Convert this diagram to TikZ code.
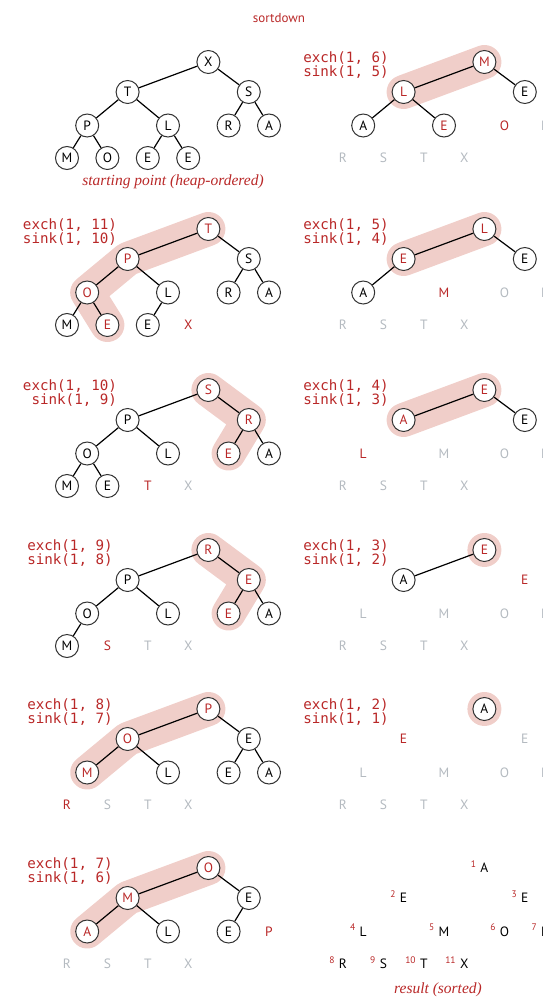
\documentclass[tikz,border=0pt]{standalone}
\usepackage{fontspec}
\setsansfont{PT Sans}
\setmonofont{DejaVu Sans Mono}
\newfontfamily\capfont{Liberation Serif}
\usetikzlibrary{backgrounds}
\definecolor{sortred}{RGB}{185,40,40}
\definecolor{donegray}{RGB}{180,186,192}
\definecolor{glowpink}{RGB}{240,206,201}
% inorder slot and depth of heap positions 1..11
\def\heapslots{1/7/0,2/3/30,3/9/30,4/1/63.5,5/5/63.5,6/8/63.5,7/10/63.5,8/0/96,9/2/96,10/4/96,11/6/96}

\begin{document}
\begin{tikzpicture}[x=1pt,y=-1pt,
  heapkey/.style={circle, draw=black!80, line width=1pt, fill=white, minimum size=23pt, inner sep=0pt, font=\sffamily\fontsize{13.5}{14}\selectfont},
  keyred/.style={heapkey, text=sortred},
  outred/.style={inner sep=1pt, font=\sffamily\fontsize{13.5}{14}\selectfont, text=sortred},
  outgray/.style={outred, text=donegray},
  outblk/.style={outred, text=black},
  idx/.style={inner sep=0pt, font=\sffamily\fontsize{9.5}{10}\selectfont, text=sortred, yshift=4pt, xshift=-3pt},
  branch/.style={line width=1.2pt},
  glow/.style={draw=glowpink, line width=34pt, line cap=round, line join=round},
  cmd/.style={font=\ttfamily\fontsize{14.2}{14}\selectfont, text=sortred, align=center},
  caption/.style={font=\capfont\itshape\fontsize{15.5}{17}\selectfont, text=sortred}]
\useasboundingbox (0,0) rectangle (542,1001);
\node[font=\sffamily\fontsize{13}{14}\selectfont, text=sortred] (title) at (279,18) {sortdown};

% starting point
\begin{scope}[shift={(67,62)}]
  \foreach \p/\i/\d in \heapslots \coordinate (s\p) at (20.2*\i,\d);
  \foreach \p/\c in {1/X,2/T,3/S,4/P,5/L,6/R,7/A,8/M,9/O,10/E,11/E} \node[heapkey] (a\p) at (s\p) {\c};
  \foreach \p [evaluate=\p as \q using int(\p/2)] in {2,...,11} \draw[branch] (a\p) -- (a\q);
  \node[caption] (capa) at (106,120) {starting point (heap-ordered)};
\end{scope}

% exch(1, 6)
\begin{scope}[shift={(343,62)}]
  \foreach \p/\i/\d in \heapslots \coordinate (s\p) at (20.2*\i,\d);
  \foreach \p/\c/\s in {1/M/keyred,2/L/keyred,3/E/heapkey,4/A/heapkey,5/E/keyred,6/O/outred,7/P/outgray,8/R/outgray,9/S/outgray,10/T/outgray,11/X/outgray}
    \node[\s] (b\p) at (s\p) {\c};
  \foreach \p [evaluate=\p as \q using int(\p/2)] in {2,...,5} \draw[branch] (b\p) -- (b\q);
  \begin{scope}[on background layer] \draw[glow] (b1.center) -- (b2.center); \end{scope}
  \node[cmd] (cmdb) at (3,3) {exch(1, 6)\\sink(1, 5)};
\end{scope}

% exch(1, 11)
\begin{scope}[shift={(67,229)}]
  \foreach \p/\i/\d in \heapslots \coordinate (s\p) at (20.2*\i,\d);
  \foreach \p/\c/\s in {1/T/keyred,2/P/keyred,3/S/heapkey,4/O/keyred,5/L/heapkey,6/R/heapkey,7/A/heapkey,8/M/heapkey,9/E/keyred,10/E/heapkey,11/X/outred}
    \node[\s] (c\p) at (s\p) {\c};
  \foreach \p [evaluate=\p as \q using int(\p/2)] in {2,...,10} \draw[branch] (c\p) -- (c\q);
  \begin{scope}[on background layer] \draw[glow] (c1.center) -- (c2.center) -- (c4.center) -- (c9.center); \end{scope}
  \node[cmd] (cmdc) at (3,3) {exch(1, 11)\\sink(1, 10)};
\end{scope}

% exch(1, 5)
\begin{scope}[shift={(343,229)}]
  \foreach \p/\i/\d in \heapslots \coordinate (s\p) at (20.2*\i,\d);
  \foreach \p/\c/\s in {1/L/keyred,2/E/keyred,3/E/heapkey,4/A/heapkey,5/M/outred,6/O/outgray,7/P/outgray,8/R/outgray,9/S/outgray,10/T/outgray,11/X/outgray}
    \node[\s] (d\p) at (s\p) {\c};
  \foreach \p [evaluate=\p as \q using int(\p/2)] in {2,...,4} \draw[branch] (d\p) -- (d\q);
  \begin{scope}[on background layer] \draw[glow] (d1.center) -- (d2.center); \end{scope}
  \node[cmd] (cmdd) at (3,3) {exch(1, 5)\\sink(1, 4)};
\end{scope}

% exch(1, 10)
\begin{scope}[shift={(67,390)}]
  \foreach \p/\i/\d in \heapslots \coordinate (s\p) at (20.2*\i,\d);
  \foreach \p/\c/\s in {1/S/keyred,2/P/heapkey,3/R/keyred,4/O/heapkey,5/L/heapkey,6/E/keyred,7/A/heapkey,8/M/heapkey,9/E/heapkey,10/T/outred,11/X/outgray}
    \node[\s] (e\p) at (s\p) {\c};
  \foreach \p [evaluate=\p as \q using int(\p/2)] in {2,...,9} \draw[branch] (e\p) -- (e\q);
  \begin{scope}[on background layer] \draw[glow] (e1.center) -- (e3.center) -- (e6.center); \end{scope}
  \node[cmd] (cmde) at (3,3) {exch(1, 10)\\~sink(1, 9)};
\end{scope}

% exch(1, 4)
\begin{scope}[shift={(343,390)}]
  \foreach \p/\i/\d in \heapslots \coordinate (s\p) at (20.2*\i,\d);
  \foreach \p/\c/\s in {1/E/keyred,2/A/keyred,3/E/heapkey,4/L/outred,5/M/outgray,6/O/outgray,7/P/outgray,8/R/outgray,9/S/outgray,10/T/outgray,11/X/outgray}
    \node[\s] (f\p) at (s\p) {\c};
  \foreach \p [evaluate=\p as \q using int(\p/2)] in {2,3} \draw[branch] (f\p) -- (f\q);
  \begin{scope}[on background layer] \draw[glow] (f1.center) -- (f2.center); \end{scope}
  \node[cmd] (cmdf) at (3,3) {exch(1, 4)\\sink(1, 3)};
\end{scope}

% exch(1, 9)
\begin{scope}[shift={(67,550)}]
  \foreach \p/\i/\d in \heapslots \coordinate (s\p) at (20.2*\i,\d);
  \foreach \p/\c/\s in {1/R/keyred,2/P/heapkey,3/E/keyred,4/O/heapkey,5/L/heapkey,6/E/keyred,7/A/heapkey,8/M/heapkey,9/S/outred,10/T/outgray,11/X/outgray}
    \node[\s] (g\p) at (s\p) {\c};
  \foreach \p [evaluate=\p as \q using int(\p/2)] in {2,...,8} \draw[branch] (g\p) -- (g\q);
  \begin{scope}[on background layer] \draw[glow] (g1.center) -- (g3.center) -- (g6.center); \end{scope}
  \node[cmd] (cmdg) at (3,3) {exch(1, 9)\\sink(1, 8)};
\end{scope}

% exch(1, 3)
\begin{scope}[shift={(343,550)}]
  \foreach \p/\i/\d in \heapslots \coordinate (s\p) at (20.2*\i,\d);
  \foreach \p/\c/\s in {1/E/keyred,2/A/heapkey,3/E/outred,4/L/outgray,5/M/outgray,6/O/outgray,7/P/outgray,8/R/outgray,9/S/outgray,10/T/outgray,11/X/outgray}
    \node[\s] (h\p) at (s\p) {\c};
  \draw[branch] (h2) -- (h1);
  \begin{scope}[on background layer] \draw[glow] (h1.center) -- ++(0.01,0); \end{scope}
  \node[cmd] (cmdh) at (3,3) {exch(1, 3)\\sink(1, 2)};
\end{scope}

% exch(1, 8)
\begin{scope}[shift={(67,709)}]
  \foreach \p/\i/\d in \heapslots \coordinate (s\p) at (20.2*\i,\d);
  \foreach \p/\c/\s in {1/P/keyred,2/O/keyred,3/E/heapkey,4/M/keyred,5/L/heapkey,6/E/heapkey,7/A/heapkey,8/R/outred,9/S/outgray,10/T/outgray,11/X/outgray}
    \node[\s] (i\p) at (s\p) {\c};
  \foreach \p [evaluate=\p as \q using int(\p/2)] in {2,...,7} \draw[branch] (i\p) -- (i\q);
  \begin{scope}[on background layer] \draw[glow] (i1.center) -- (i2.center) -- (i4.center); \end{scope}
  \node[cmd] (cmdi) at (3,3) {exch(1, 8)\\sink(1, 7)};
\end{scope}

% exch(1, 2)
\begin{scope}[shift={(343,709)}]
  \foreach \p/\i/\d in \heapslots \coordinate (s\p) at (20.2*\i,\d);
  \foreach \p/\c/\s in {1/A/heapkey,2/E/outred,3/E/outgray,4/L/outgray,5/M/outgray,6/O/outgray,7/P/outgray,8/R/outgray,9/S/outgray,10/T/outgray,11/X/outgray}
    \node[\s] (j\p) at (s\p) {\c};
  \begin{scope}[on background layer] \draw[glow] (j1.center) -- ++(0.01,0); \end{scope}
  \node[cmd] (cmdj) at (3,3) {exch(1, 2)\\sink(1, 1)};
\end{scope}

% exch(1, 7)
\begin{scope}[shift={(67,868)}]
  \foreach \p/\i/\d in \heapslots \coordinate (s\p) at (20.2*\i,\d);
  \foreach \p/\c/\s in {1/O/keyred,2/M/keyred,3/E/heapkey,4/A/keyred,5/L/heapkey,6/E/heapkey,7/P/outred,8/R/outgray,9/S/outgray,10/T/outgray,11/X/outgray}
    \node[\s] (k\p) at (s\p) {\c};
  \foreach \p [evaluate=\p as \q using int(\p/2)] in {2,...,6} \draw[branch] (k\p) -- (k\q);
  \begin{scope}[on background layer] \draw[glow] (k1.center) -- (k2.center) -- (k4.center); \end{scope}
  \node[cmd] (cmdk) at (3,3) {exch(1, 7)\\sink(1, 6)};
\end{scope}

% result
\begin{scope}[shift={(343,868)}]
  \foreach \p/\i/\d in \heapslots \coordinate (s\p) at (20.2*\i,\d);
  \foreach \p/\c in {1/A,2/E,3/E,4/L,5/M,6/O,7/P,8/R,9/S,10/T,11/X}
    \node[outblk, label={[idx]left:\p}] (l\p) at (s\p) {\c};
  \node[caption] (capl) at (95,122) {result (sorted)};
\end{scope}
\end{tikzpicture}
\end{document}
